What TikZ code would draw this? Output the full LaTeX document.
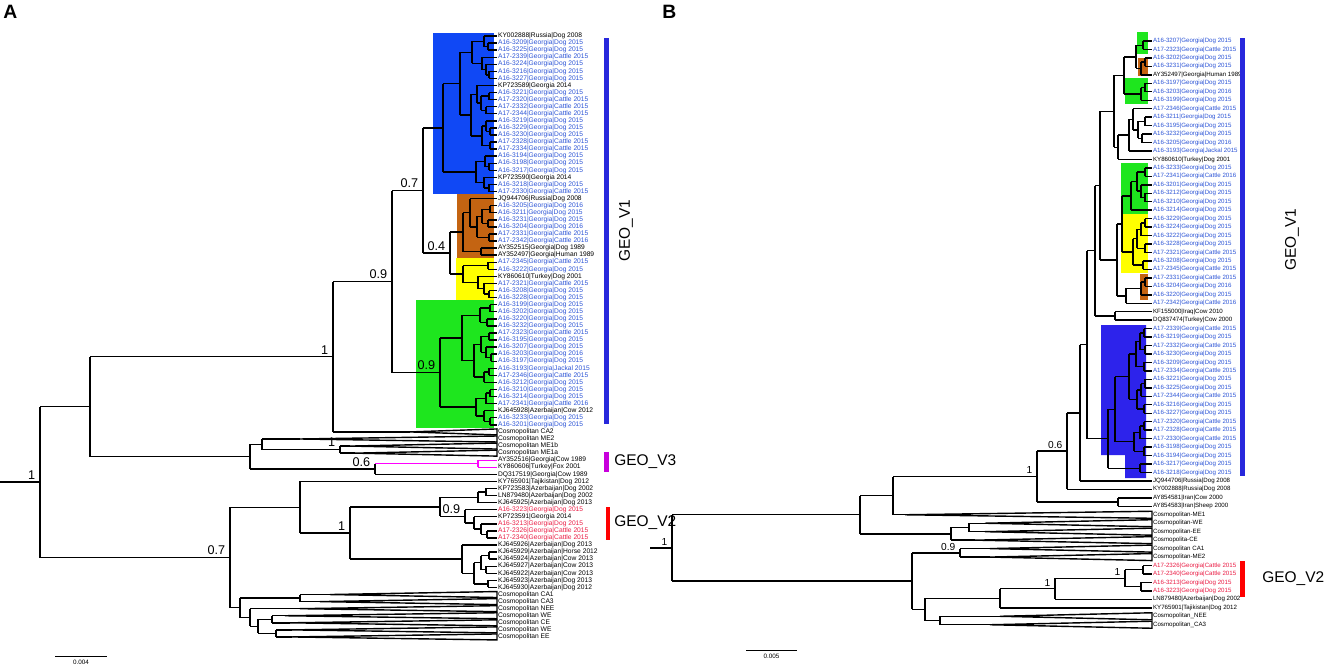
\documentclass[tikz,border=0pt]{standalone}
\usepackage{fontspec}
\setmainfont{Liberation Sans}
\usetikzlibrary{calc,positioning}
\tikzset{>=stealth}
\definecolor{boxblue}{RGB}{16,72,245}
\definecolor{boxbrown}{RGB}{196,100,18}
\definecolor{boxyellow}{RGB}{255,255,0}
\definecolor{boxgreen}{RGB}{30,230,30}
\definecolor{boxblueB}{RGB}{45,35,235}
\definecolor{tcb}{RGB}{45,85,215}
\definecolor{tck}{RGB}{0,0,0}
\definecolor{tcr}{RGB}{235,30,70}
\definecolor{barblue}{RGB}{40,40,220}
\definecolor{barmag}{RGB}{200,0,220}
\definecolor{linemag}{RGB}{255,0,255}
\definecolor{barred}{RGB}{255,0,0}
\tikzset{
  branch/.style={line width=0.8pt},
  leafA/.style={anchor=west, inner sep=0.4pt, font=\fontsize{3.8}{4}\selectfont},
  leafB/.style={anchor=west, inner sep=0.4pt, font=\fontsize{3.5}{4}\selectfont},
  supp/.style={anchor=south east, inner sep=0.5pt, font=\fontsize{7.2}{8}\selectfont},
  suppB/.style={anchor=south east, inner sep=0.5pt, font=\fontsize{5.8}{6}\selectfont},
  geo/.style={inner sep=0pt, font=\fontsize{8.8}{10}\selectfont},
  panel/.style={inner sep=0pt, font=\fontsize{11}{12}\selectfont\bfseries},
  scaletext/.style={inner sep=0pt, font=\fontsize{3.6}{4}\selectfont},
}
% one bracket of the tree: name, x (px), children from top to bottom
\newcommand\clade[4][]{%
  \foreach \k [count=\n] in {#4}{%
    \ifnum\n=1 \xdef\kidfirst{\k}\fi
    \xdef\kidlast{\k}}%
  \path let \p1=(\kidfirst), \p2=(\kidlast) in
    coordinate (#2) at ({#3*0.02cm},{0.5*(\y1+\y2)});
  \draw[branch,#1] (#2 |- \kidfirst) -- (#2 |- \kidlast);
  \foreach \k in {#4}{\draw[branch,#1] (#2 |- \k) -- (\k);}%
}
% collapsed clade: apex name, apex x, leaf node, half height
\newcommand\wedgetip[4]{%
  \path let \p1=(#3.west) in coordinate (#1) at ({#2*0.02cm},\y1);
  \draw[branch,line join=miter] (#1) -- ([yshift=#4]#3.west) -- ([yshift=-#4]#3.west) -- cycle;
}
\newcommand\supp[3][supp]{\node[#1] at ([xshift=-2pt,yshift=0.8pt]#2) {#3};}

\begin{document}
\begin{tikzpicture}[x=0.02cm,y=-0.02cm]
  \fill[white] (0,0) rectangle (1325,669);
  \useasboundingbox (0,0) rectangle (1325,669);

  % ---------------- panel A ----------------
  \node[panel, anchor=north west] (pA) at (3,5) {A};
  \fill[boxblue] (433,33) rectangle (494,194);
  \fill[boxbrown] (457,194) rectangle (494,258);
  \fill[boxyellow] (456,258) rectangle (494,300);
  \fill[boxgreen] (416,300) rectangle (494,428);

  \foreach \t/\c [count=\i] in {KY002888|Russia|Dog 2008/k, A16-3209|Georgia|Dog 2015/b,
    A16-3225|Georgia|Dog 2015/b, A17-2339|Georgia|Cattle 2015/b, A16-3224|Georgia|Dog 2015/b,
    A16-3216|Georgia|Dog 2015/b, A16-3227|Georgia|Dog 2015/b, KP723589|Georgia 2014/k,
    A16-3221|Georgia|Dog 2015/b, A17-2320|Georgia|Cattle 2015/b, A17-2332|Georgia|Cattle 2015/b,
    A17-2344|Georgia|Cattle 2015/b, A16-3219|Georgia|Dog 2015/b, A16-3229|Georgia|Dog 2015/b,
    A16-3230|Georgia|Dog 2015/b, A17-2328|Georgia|Cattle 2015/b, A17-2334|Georgia|Cattle 2015/b,
    A16-3194|Georgia|Dog 2015/b, A16-3198|Georgia|Dog 2015/b, A16-3217|Georgia|Dog 2015/b,
    KP723590|Georgia 2014/k, A16-3218|Georgia|Dog 2015/b, A17-2330|Georgia|Cattle 2015/b,
    JQ944706|Russia|Dog 2008/k, A16-3205|Georgia|Dog 2016/b, A16-3211|Georgia|Dog 2015/b,
    A16-3231|Georgia|Dog 2015/b, A16-3204|Georgia|Dog 2016/b, A17-2331|Georgia|Cattle 2015/b,
    A17-2342|Georgia|Cattle 2016/b, AY352515|Georgia|Dog 1989/k, AY352497|Georgia|Human 1989/k,
    A17-2345|Georgia|Cattle 2015/b, A16-3222|Georgia|Dog 2015/b, KY860610|Turkey|Dog 2001/k,
    A17-2321|Georgia|Cattle 2015/b, A16-3208|Georgia|Dog 2015/b, A16-3228|Georgia|Dog 2015/b,
    A16-3199|Georgia|Dog 2015/b, A16-3202|Georgia|Dog 2015/b, A16-3220|Georgia|Dog 2015/b,
    A16-3232|Georgia|Dog 2015/b, A17-2323|Georgia|Cattle 2015/b, A16-3195|Georgia|Dog 2015/b,
    A16-3207|Georgia|Dog 2015/b, A16-3203|Georgia|Dog 2016/b, A16-3197|Georgia|Dog 2015/b,
    A16-3193|Georgia|Jackal 2015/b, A17-2346|Georgia|Cattle 2015/b, A16-3212|Georgia|Dog 2015/b,
    A16-3210|Georgia|Dog 2015/b, A16-3214|Georgia|Dog 2015/b, A17-2341|Georgia|Cattle 2016/b,
    KJ645928|Azerbaijan|Cow 2012/k, A16-3233|Georgia|Dog 2015/b, A16-3201|Georgia|Dog 2015/b,
    Cosmopolitan CA2/k, Cosmopolitan ME2/k, Cosmopolitan ME1b/k, Cosmopolitan ME1a/k,
    AY352516|Georgia|Cow 1989/k, KY860606|Turkey|Fox 2001/k, DQ317519|Georgia|Cow 1989/k,
    KY765901|Tajikistan|Dog 2012/k, KP723583|Azerbaijan|Dog 2002/k, LN879480|Azerbaijan|Dog 2002/k,
    KJ645925|Azerbaijan|Dog 2013/k, A16-3223|Georgia|Dog 2015/r, KP723591|Georgia 2014/k,
    A16-3213|Georgia|Dog 2015/r, A17-2326|Georgia|Cattle 2015/r, A17-2340|Georgia|Cattle 2015/r,
    KJ645926|Azerbaijan|Dog 2013/k, KJ645929|Azerbaijan|Horse 2012/k, KJ645924|Azerbaijan|Cow 2013/k,
    KJ645927|Azerbaijan|Cow 2013/k, KJ645922|Azerbaijan|Cow 2013/k, KJ645923|Azerbaijan|Dog 2013/k,
    KJ645930|Azerbaijan|Dog 2012/k, Cosmopolitan CA1/k, Cosmopolitan CA3/k, Cosmopolitan NEE/k,
    Cosmopolitan WE/k, Cosmopolitan CE/k, Cosmopolitan WE/k, Cosmopolitan EE/k}{
    \node[leafA, text=tc\c] (la\i) at (497,{36+(\i-1)*7.07}) {\t};
    \coordinate (ta\i) at (la\i.west);
  }

  % GEO_V1 blue clade
  \clade{bl1}{488}{ta2,ta3}
  \clade{bl2}{484}{ta1,bl1}
  \clade{bl3}{489}{ta6,ta7}
  \clade{bl4}{486}{ta5,bl3}
  \clade{bl5}{482}{ta4,bl4}
  \clade{bl6}{472}{bl2,bl5}
  \clade{bl7}{489}{ta9,ta10}
  \clade{bl8}{486}{ta11,ta12}
  \clade{bl9}{481}{bl7,bl8}
  \clade{bl10}{477}{ta8,bl9}
  \clade{bl11}{490}{ta14,ta15}
  \clade{bl12}{486}{ta13,bl11}
  \clade{bl13}{490}{ta16,ta17}
  \clade{bl14}{482}{bl12,bl13}
  \clade{bl15}{471}{bl10,bl14}
  \clade{bl16}{460}{bl6,bl15}
  \clade{bl17}{489}{ta19,ta20}
  \clade{bl18}{485}{ta18,bl17}
  \clade{bl19}{489}{ta22,ta23}
  \clade{bl20}{484}{ta21,bl19}
  \clade{bl21}{476}{bl18,bl20}
  \clade{blA}{443}{bl16,bl21}
  % brown and yellow
  \clade{or1}{490}{ta25,ta26}
  \clade{or2}{488}{ta27,ta28}
  \clade{or3}{482}{or1,or2}
  \clade{or4}{489}{ta29,ta30}
  \clade{or5}{477}{or3,or4}
  \clade{or6}{470}{ta24,or5}
  \clade{or7}{481}{ta31,ta32}
  \clade{orA}{463}{or6,or7}
  \clade{ye1}{488}{ta33,ta34}
  \clade{ye2}{489}{ta37,ta38}
  \clade{ye3}{484}{ta36,ye2}
  \clade{ye4}{478}{ta35,ye3}
  \clade{yeA}{463}{ye1,ye4}
  \clade{nA04}{450}{orA,yeA}
  \clade{nA07}{423}{blA,nA04}
  % green
  \clade{gr1}{490}{ta39,ta40}
  \clade{gr2}{487}{ta41,ta42}
  \clade{gr3}{480}{gr1,gr2}
  \clade{gr4}{489}{ta43,ta44}
  \clade{gr5}{491}{ta46,ta47}
  \clade{gr6}{486}{ta45,gr5}
  \clade{gr7}{481}{gr4,gr6}
  \clade{gr8}{489}{ta48,ta49}
  \clade{gr9}{484}{gr8,ta50}
  \clade{gr10}{474}{gr7,gr9}
  \clade{gr11}{462}{gr3,gr10}
  \clade{gr12}{490}{ta51,ta52}
  \clade{gr13}{486}{gr12,ta53}
  \clade{gr14}{490}{ta55,ta56}
  \clade{gr15}{484}{ta54,gr14}
  \clade{gr16}{476}{gr13,gr15}
  \clade{grA}{440}{gr11,gr16}
  \clade{nA09}{392}{nA07,grA}
  \wedgetip{wa57}{410}{la57}{1.7pt}
  \clade{nA1}{333}{nA09,wa57}
  % ME clades and GEO_V3
  \wedgetip{wa58}{300}{la58}{1.7pt}
  \wedgetip{wa59}{350}{la59}{1.7pt}
  \wedgetip{wa60}{355}{la60}{1.7pt}
  \clade{me1}{340}{wa59,wa60}
  \clade{me2}{262}{wa58,me1}
  \clade[linemag]{mg1}{478}{ta61,ta62}
  \clade{mg2}{375}{mg1,ta63}
  \draw[branch,linemag] (mg2 |- mg1) -- (mg1);
  \clade{tpA}{250}{me2,mg2}
  \clade{upA}{90}{nA1,tpA}
  % GEO_V2 and Azerbaijan
  \clade{ra1}{487}{ta71,ta72}
  \clade{ra2}{481}{ta70,ra1}
  \clade{ra3}{474}{ta69,ra2}
  \clade{ra4}{465}{ta68,ra3}
  \clade{az1}{486}{ta65,ta66}
  \clade{az2}{478}{az1,ta67}
  \clade{g2a}{440}{az2,ra4}
  \clade{kj1}{489}{ta74,ta75}
  \clade{kj2}{486}{ta76,ta77}
  \clade{kj3}{481}{kj1,kj2}
  \clade{kj4}{488}{ta78,ta79}
  \clade{kj5}{474}{kj3,kj4}
  \clade{kj6}{462}{ta73,kj5}
  \clade{bg1}{350}{g2a,kj6}
  \clade{bg2}{300}{ta64,bg1}
  \wedgetip{wa80}{330}{la80}{1.7pt}
  \wedgetip{wa81}{320}{la81}{1.7pt}
  \wedgetip{wa82}{300}{la82}{1.7pt}
  \wedgetip{wa83}{285}{la83}{1.7pt}
  \wedgetip{wa84}{290}{la84}{1.7pt}
  \wedgetip{wa85}{292}{la85}{1.7pt}
  \wedgetip{wa86}{292}{la86}{1.7pt}
  \clade{cw1}{272}{wa83,wa84}
  \clade{cw2}{276}{wa85,wa86}
  \clade{cw3}{258}{cw1,cw2}
  \clade{cw4}{250}{wa82,cw3}
  \clade{cw5}{300}{wa80,wa81}
  \clade{cw6}{240}{cw5,cw4}
  \clade{loA}{230}{bg2,cw6}
  \clade{rtA}{40}{upA,loA}
  \coordinate (sA) at (0,0);
  \draw[branch] (rtA) -- (rtA -| sA);

  \supp{rtA}{1}
  \supp{nA1}{1}
  \supp{nA09}{0.9}
  \supp{nA07}{0.7}
  \supp{nA04}{0.4}
  \supp{grA}{0.9}
  \supp{me1}{1}
  \supp{mg2}{0.6}
  \supp{bg1}{1}
  \supp{ra4}{0.9}
  \supp{loA}{0.7}

  \fill[barblue] (604,38) rectangle (609,424);
  \fill[barmag] (604,452) rectangle (609,472);
  \fill[barred] (606,507) rectangle (610,540);
  \node[geo, rotate=90] (geoA1) at (626,231) {GEO\_V1};
  \node[geo, anchor=west] (geoA3) at (614,462) {GEO\_V3};
  \node[geo, anchor=west] (geoA2) at (614,523) {GEO\_V2};

  \coordinate (sbA1) at (55,656);
  \coordinate (sbA2) at (107,656);
  \draw[line width=0.4pt] (sbA1) -- (sbA2);
  \node[scaletext, below=2pt of $(sbA1)!0.5!(sbA2)$] (sbtA) {0.004};

  % ---------------- panel B ----------------
  \node[panel, anchor=north west] (pB) at (662,5) {B};
  \fill[boxgreen] (1137,32) rectangle (1148,54);
  \fill[boxbrown] (1138,58) rectangle (1148,76);
  \fill[boxgreen] (1125,78) rectangle (1148,104);
  \fill[boxgreen] (1121,163) rectangle (1148,214);
  \fill[boxyellow] (1121,214) rectangle (1148,273);
  \fill[boxbrown] (1140,274) rectangle (1148,300);
  \fill[boxblueB] (1101,325) -- (1146,325) -- (1146,478) -- (1125,478) -- (1125,455) -- (1101,455) -- cycle;

  \foreach \t/\c [count=\i] in {A16-3207|Georgia|Dog 2015/b, A17-2323|Georgia|Cattle 2015/b,
    A16-3202|Georgia|Dog 2015/b, A16-3231|Georgia|Dog 2015/b, AY352497|Georgia|Human 1989/k,
    A16-3197|Georgia|Dog 2015/b, A16-3203|Georgia|Dog 2016/b, A16-3199|Georgia|Dog 2015/b,
    A17-2346|Georgia|Cattle 2015/b, A16-3211|Georgia|Dog 2015/b, A16-3195|Georgia|Dog 2015/b,
    A16-3232|Georgia|Dog 2015/b, A16-3205|Georgia|Dog 2016/b, A16-3193|Georgia|Jackal 2015/b,
    KY860610|Turkey|Dog 2001/k, A16-3233|Georgia|Dog 2015/b, A17-2341|Georgia|Cattle 2016/b,
    A16-3201|Georgia|Dog 2015/b, A16-3212|Georgia|Dog 2015/b, A16-3210|Georgia|Dog 2015/b,
    A16-3214|Georgia|Dog 2015/b, A16-3229|Georgia|Dog 2015/b, A16-3224|Georgia|Dog 2015/b,
    A16-3222|Georgia|Dog 2015/b, A16-3228|Georgia|Dog 2015/b, A17-2321|Georgia|Cattle 2015/b,
    A16-3208|Georgia|Dog 2015/b, A17-2345|Georgia|Cattle 2015/b, A17-2331|Georgia|Cattle 2015/b,
    A16-3204|Georgia|Dog 2016/b, A16-3220|Georgia|Dog 2015/b, A17-2342|Georgia|Cattle 2016/b,
    KF155000|Iraq|Cow 2010/k, DQ837474|Turkey|Cow 2000/k, A17-2339|Georgia|Cattle 2015/b,
    A16-3219|Georgia|Dog 2015/b, A17-2332|Georgia|Cattle 2015/b, A16-3230|Georgia|Dog 2015/b,
    A16-3209|Georgia|Dog 2015/b, A17-2334|Georgia|Cattle 2015/b, A16-3221|Georgia|Dog 2015/b,
    A16-3225|Georgia|Dog 2015/b, A17-2344|Georgia|Cattle 2015/b, A16-3216|Georgia|Dog 2015/b,
    A16-3227|Georgia|Dog 2015/b, A17-2320|Georgia|Cattle 2015/b, A17-2328|Georgia|Cattle 2015/b,
    A17-2330|Georgia|Cattle 2015/b, A16-3198|Georgia|Dog 2015/b, A16-3194|Georgia|Dog 2015/b,
    A16-3217|Georgia|Dog 2015/b, A16-3218|Georgia|Dog 2015/b, JQ944706|Russia|Dog 2008/k,
    KY002888|Russia|Dog 2008/k, AY854581|Iran|Cow 2000/k, AY854583|Iran|Sheep 2000/k,
    Cosmopolitan-ME1/k, Cosmopolitan-WE/k, Cosmopolitan-EE/k, Cosmopolita-CE/k,
    Cosmopolitan CA1/k, Cosmopolitan-ME2/k, A17-2326|Georgia|Cattle 2015/r,
    A17-2340|Georgia|Cattle 2015/r, A16-3213|Georgia|Dog 2015/r, A16-3223|Georgia|Dog 2015/r,
    LN879480|Azerbaijan|Dog 2002/k, KY765901|Tajikistan|Dog 2012/k,
    Cosmopolitan\_NEE/k, Cosmopolitan\_CA3/k}{
    \node[leafB, text=tc\c] (lb\i) at (1152,{41+(\i-1)*8.46}) {\t};
    \coordinate (tb\i) at (lb\i.west);
  }

  \clade{c1}{1143}{tb1,tb2}
  \clade{c2}{1145}{tb3,tb4}
  \clade{c3}{1141}{c2,tb5}
  \clade{c4}{1136}{c1,c3}
  \clade{c5}{1145}{tb6,tb7}
  \clade{c6}{1141}{c5,tb8}
  \clade{c7}{1124}{c4,c6}
  \clade{c8}{1145}{tb10,tb11}
  \clade{c9}{1142}{tb12,tb13}
  \clade{c10}{1138}{c8,c9}
  \clade{c11}{1133}{tb9,c10}
  \clade{c12}{1129}{c11,tb14}
  \clade{c13}{1118}{c12,tb15}
  \clade{c14}{1114}{c7,c13}
  \clade{c15}{1145}{tb16,tb17}
  \clade{c16}{1145}{tb19,tb20}
  \clade{c17}{1141}{tb18,c16}
  \clade{c18}{1137}{c15,c17}
  \clade{c19}{1131}{c18,tb21}
  \clade{c20}{1145}{tb22,tb23}
  \clade{c21}{1141}{c20,tb24}
  \clade{c22}{1145}{tb25,tb26}
  \clade{c23}{1137}{c21,c22}
  \clade{c24}{1143}{tb27,tb28}
  \clade{c25}{1133}{c23,c24}
  \clade{c26}{1122}{c19,c25}
  \clade{c27}{1145}{tb29,tb30}
  \clade{c28}{1141}{c27,tb31}
  \clade{c29}{1126}{c28,tb32}
  \clade{c30}{1117}{c26,c29}
  \clade{c31}{1100}{c14,c30}
  \clade{c32}{1115}{tb33,tb34}
  \clade{c33}{1095}{c31,c32}
  \clade{d1}{1144}{tb35,tb36}
  \clade{d2}{1145}{tb37,tb38}
  \clade{d3}{1140}{d1,d2}
  \clade{d4}{1144}{tb39,tb40}
  \clade{d5}{1136}{d3,d4}
  \clade{d6}{1145}{tb41,tb42}
  \clade{d7}{1141}{d6,tb43}
  \clade{d8}{1144}{tb44,tb45}
  \clade{d9}{1137}{d7,d8}
  \clade{d10}{1129}{d5,d9}
  \clade{d11}{1144}{tb46,tb47}
  \clade{d12}{1140}{d11,tb48}
  \clade{d13}{1144}{tb49,tb50}
  \clade{d14}{1134}{d12,d13}
  \clade{d15}{1115}{d10,d14}
  \clade{d16}{1140}{tb51,tb52}
  \clade{d17}{1108}{d15,d16}
  \clade{c34}{1087}{c33,d17}
  \clade{c35}{1080}{c34,tb53}
  \clade{c36}{1067}{c35,tb54}
  \clade{c37}{1118}{tb55,tb56}
  \clade{c38}{1037}{c36,c37}
  \wedgetip{wb57}{905}{lb57}{2pt}
  \wedgetip{wb58}{985}{lb58}{2pt}
  \wedgetip{wb59}{985}{lb59}{2pt}
  \wedgetip{wb60}{975}{lb60}{2pt}
  \wedgetip{wb61}{990}{lb61}{2pt}
  \wedgetip{wb62}{990}{lb62}{2pt}
  \clade{c39}{893}{c38,wb57}
  \clade{c40}{969}{wb58,wb59}
  \clade{c41}{951}{c40,wb60}
  \clade{c42}{960}{wb61,wb62}
  \clade{r1}{1143}{tb63,tb64}
  \clade{r2}{1141}{tb65,tb66}
  \clade{r3}{1125}{r1,r2}
  \clade{r4}{1055}{r3,tb67}
  \clade{r5}{1000}{r4,tb68}
  \wedgetip{wb69}{1000}{lb69}{2pt}
  \wedgetip{wb70}{990}{lb70}{2pt}
  \clade{c43}{940}{wb69,wb70}
  \clade{c44}{925}{r5,c43}
  \clade{c45}{912}{c42,c44}
  \clade{c46}{860}{c39,c41}
  \clade{rtB}{672}{c46,c45}
  \coordinate (sB) at (650,0);
  \draw[branch] (rtB) -- (rtB -| sB);

  \supp[suppB]{rtB}{1}
  \supp[suppB]{c38}{1}
  \supp[suppB]{c36}{0.6}
  \supp[suppB]{c42}{0.9}
  \supp[suppB]{r4}{1}
  \supp[suppB]{r3}{1}

  \fill[barblue] (1240,38) rectangle (1245,476);
  \fill[barred] (1240,561) rectangle (1245,597);
  \node[geo, rotate=90] (geoB1) at (1292,240) {GEO\_V1};
  \node[geo, anchor=west] (geoB2) at (1262,579) {GEO\_V2};

  \coordinate (sbB1) at (746,650);
  \coordinate (sbB2) at (797,650);
  \draw[line width=0.4pt] (sbB1) -- (sbB2);
  \node[scaletext, below=2pt of $(sbB1)!0.5!(sbB2)$] (sbtB) {0.005};
\end{tikzpicture}
\end{document}
